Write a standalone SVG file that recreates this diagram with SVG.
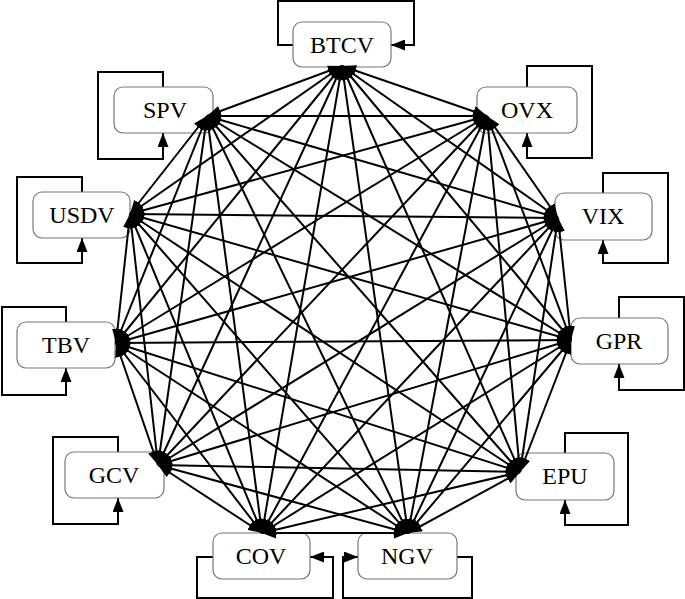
<svg xmlns="http://www.w3.org/2000/svg" width="685" height="599" viewBox="0 0 685 599">
<style>
.box{fill:#fff;stroke:#777;stroke-width:1.2}
.lbl{font-family:"Liberation Serif","Times New Roman",serif;font-size:24px;text-anchor:middle;fill:#000}
.loop{fill:none;stroke:#000;stroke-width:2;marker-end:url(#ah)}
.e line{stroke:#000;stroke-width:2;marker-start:url(#ah);marker-end:url(#ah)}
</style>
<defs>
<marker id="ah" viewBox="0 0 14 11" refX="14" refY="5.5" markerWidth="14" markerHeight="11" markerUnits="userSpaceOnUse" orient="auto-start-reverse"><path d="M0,0 L14,5.5 L0,11 z" fill="#000"/></marker>
</defs>
<rect width="685" height="599" fill="#fff"/>
<g id="nodes-boxes">
<g id="BTCV"><path class="loop" d="M293,45 H278 V1 H414 V45 H391"/><rect class="box" x="293" y="22" width="98" height="45" rx="9"/><text class="lbl" x="342" y="53">BTCV</text></g>
<g id="SPV"><path class="loop" d="M163,87 V72 H98 V159 H163 V133"/><rect class="box" x="114" y="87" width="99" height="46" rx="9"/><text class="lbl" x="165" y="118">SPV</text></g>
<g id="OVX"><path class="loop" d="M527,87 V66 H592 V158 H527 V133"/><rect class="box" x="477" y="87" width="100" height="46" rx="9"/><text class="lbl" x="527" y="118">OVX</text></g>
<g id="USDV"><path class="loop" d="M82,192 V177 H17 V263 H82 V238"/><rect class="box" x="33" y="192" width="97" height="46" rx="9"/><text class="lbl" x="82" y="223">USDV</text></g>
<g id="VIX"><path class="loop" d="M603,193 V173 H668 V263 H603 V240"/><rect class="box" x="555" y="193" width="97" height="47" rx="9"/><text class="lbl" x="603" y="224">VIX</text></g>
<g id="TBV"><path class="loop" d="M66,322 V307 H2 V395 H66 V368"/><rect class="box" x="17" y="322" width="98" height="46" rx="9"/><text class="lbl" x="66" y="353">TBV</text></g>
<g id="GPR"><path class="loop" d="M619,318 V297 H684 V390 H619 V364"/><rect class="box" x="571" y="318" width="97" height="46" rx="9"/><text class="lbl" x="619" y="349">GPR</text></g>
<g id="GCV"><path class="loop" d="M118,452 V437 H53 V524 H118 V498"/><rect class="box" x="65" y="452" width="99" height="46" rx="9"/><text class="lbl" x="114" y="483">GCV</text></g>
<g id="EPU"><path class="loop" d="M565,453 V433 H628 V525 H565 V500"/><rect class="box" x="516" y="453" width="98" height="47" rx="9"/><text class="lbl" x="565" y="484">EPU</text></g>
<g id="COV"><path class="loop" d="M213,557 H197 V598 H333 V557 H310"/><rect class="box" x="213" y="533" width="97" height="46" rx="9"/><text class="lbl" x="261" y="564">COV</text></g>
<g id="NGV"><path class="loop" d="M457,557 H472 V598 H343 V557 H358"/><rect class="box" x="358" y="533" width="99" height="46" rx="9"/><text class="lbl" x="407" y="564">NGV</text></g>
</g>
<g id="connectors" class="e">
<line x1="342" y1="66" x2="487" y2="116"/>
<line x1="342" y1="66" x2="558" y2="218"/>
<line x1="342" y1="66" x2="571" y2="340"/>
<line x1="342" y1="66" x2="520" y2="472"/>
<line x1="342" y1="66" x2="408" y2="533"/>
<line x1="342" y1="66" x2="262" y2="533"/>
<line x1="342" y1="66" x2="158" y2="465"/>
<line x1="342" y1="66" x2="116" y2="343"/>
<line x1="342" y1="66" x2="130" y2="214"/>
<line x1="342" y1="66" x2="207" y2="116"/>
<line x1="487" y1="116" x2="558" y2="218"/>
<line x1="487" y1="116" x2="571" y2="340"/>
<line x1="487" y1="116" x2="520" y2="472"/>
<line x1="487" y1="116" x2="408" y2="533"/>
<line x1="487" y1="116" x2="262" y2="533"/>
<line x1="487" y1="116" x2="158" y2="465"/>
<line x1="487" y1="116" x2="116" y2="343"/>
<line x1="487" y1="116" x2="130" y2="214"/>
<line x1="487" y1="116" x2="207" y2="116"/>
<line x1="558" y1="218" x2="571" y2="340"/>
<line x1="558" y1="218" x2="520" y2="472"/>
<line x1="558" y1="218" x2="408" y2="533"/>
<line x1="558" y1="218" x2="262" y2="533"/>
<line x1="558" y1="218" x2="158" y2="465"/>
<line x1="558" y1="218" x2="116" y2="343"/>
<line x1="558" y1="218" x2="130" y2="214"/>
<line x1="558" y1="218" x2="207" y2="116"/>
<line x1="571" y1="340" x2="520" y2="472"/>
<line x1="571" y1="340" x2="408" y2="533"/>
<line x1="571" y1="340" x2="262" y2="533"/>
<line x1="571" y1="340" x2="158" y2="465"/>
<line x1="571" y1="340" x2="116" y2="343"/>
<line x1="571" y1="340" x2="130" y2="214"/>
<line x1="571" y1="340" x2="207" y2="116"/>
<line x1="520" y1="472" x2="408" y2="533"/>
<line x1="520" y1="472" x2="262" y2="533"/>
<line x1="520" y1="472" x2="158" y2="465"/>
<line x1="520" y1="472" x2="116" y2="343"/>
<line x1="520" y1="472" x2="130" y2="214"/>
<line x1="520" y1="472" x2="207" y2="116"/>
<line x1="408" y1="533" x2="262" y2="533"/>
<line x1="408" y1="533" x2="158" y2="465"/>
<line x1="408" y1="533" x2="116" y2="343"/>
<line x1="408" y1="533" x2="130" y2="214"/>
<line x1="408" y1="533" x2="207" y2="116"/>
<line x1="262" y1="533" x2="158" y2="465"/>
<line x1="262" y1="533" x2="116" y2="343"/>
<line x1="262" y1="533" x2="130" y2="214"/>
<line x1="262" y1="533" x2="207" y2="116"/>
<line x1="158" y1="465" x2="116" y2="343"/>
<line x1="158" y1="465" x2="130" y2="214"/>
<line x1="158" y1="465" x2="207" y2="116"/>
<line x1="116" y1="343" x2="130" y2="214"/>
<line x1="116" y1="343" x2="207" y2="116"/>
<line x1="130" y1="214" x2="207" y2="116"/>
</g>
</svg>
